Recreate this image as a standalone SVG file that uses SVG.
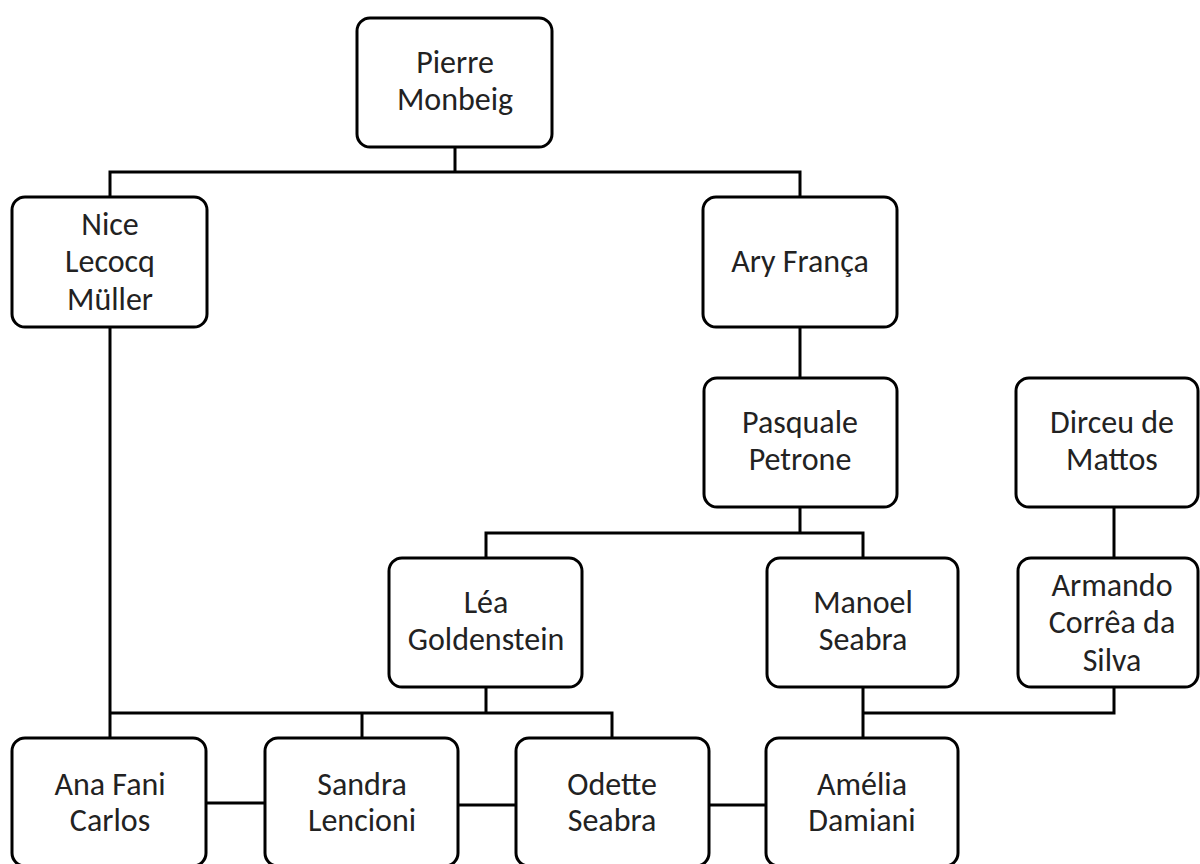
<svg xmlns="http://www.w3.org/2000/svg" width="1200" height="864" viewBox="0 0 1200 864">
<style>
.box{fill:#fff;stroke:#000;stroke-width:3}
.lbl{font-family:Carlito,Calibri,Lato,"Liberation Sans",sans-serif;font-size:32px;fill:#222;text-anchor:middle}
.con{fill:none;stroke:#000;stroke-width:3}
</style>
<rect width="1200" height="864" fill="#fff"/>
<g id="connectors">
<path class="con" d="M455,147 V172 M110,197 V172 H800 V197"/>
<path class="con" d="M800,327 V378"/>
<path class="con" d="M800,507 V533 M486,558 V533 H863 V558"/>
<path class="con" d="M1114,507 V558"/>
<path class="con" d="M1114,687 V713 H863 M863,687 V738"/>
<path class="con" d="M486,687 V713 M110,327 V738 M110,713 H612 V738 M362,713 V738"/>
<path class="con" d="M206,803 H265 M458,805 H516 M709,805 H766"/>
</g>
<g id="pierre"><rect class="box" x="357" y="18" width="195" height="129" rx="13"/><text class="lbl" x="455" y="73">Pierre</text><text class="lbl" x="455" y="110">Monbeig</text></g>
<g id="nice"><rect class="box" x="12" y="197" width="195" height="130" rx="13"/><text class="lbl" x="110" y="235">Nice</text><text class="lbl" x="110" y="272">Lecocq</text><text class="lbl" x="110" y="310">Müller</text></g>
<g id="ary"><rect class="box" x="703" y="197" width="194" height="130" rx="13"/><text class="lbl" x="800" y="272">Ary França</text></g>
<g id="pasquale"><rect class="box" x="704" y="378" width="193" height="129" rx="13"/><text class="lbl" x="800" y="433">Pasquale</text><text class="lbl" x="800" y="470">Petrone</text></g>
<g id="dirceu"><rect class="box" x="1016" y="378" width="182" height="129" rx="13"/><text class="lbl" x="1112" y="433">Dirceu de</text><text class="lbl" x="1112" y="470">Mattos</text></g>
<g id="lea"><rect class="box" x="389" y="558" width="193" height="129" rx="13"/><text class="lbl" x="486" y="613">Léa</text><text class="lbl" x="486" y="650">Goldenstein</text></g>
<g id="manoel"><rect class="box" x="767" y="558" width="191" height="129" rx="13"/><text class="lbl" x="863" y="613">Manoel</text><text class="lbl" x="863" y="650">Seabra</text></g>
<g id="armando"><rect class="box" x="1018" y="558" width="180" height="129" rx="13"/><text class="lbl" x="1112" y="596">Armando</text><text class="lbl" x="1112" y="633">Corrêa da</text><text class="lbl" x="1112" y="671">Silva</text></g>
<g id="ana"><rect class="box" x="12" y="738" width="194" height="128" rx="13"/><text class="lbl" x="110" y="795">Ana Fani</text><text class="lbl" x="110" y="831">Carlos</text></g>
<g id="sandra"><rect class="box" x="265" y="738" width="193" height="128" rx="13"/><text class="lbl" x="362" y="795">Sandra</text><text class="lbl" x="362" y="831">Lencioni</text></g>
<g id="odette"><rect class="box" x="516" y="738" width="193" height="128" rx="13"/><text class="lbl" x="612" y="795">Odette</text><text class="lbl" x="612" y="831">Seabra</text></g>
<g id="amelia"><rect class="box" x="766" y="738" width="192" height="128" rx="13"/><text class="lbl" x="862" y="795">Amélia</text><text class="lbl" x="862" y="831">Damiani</text></g>
</svg>
